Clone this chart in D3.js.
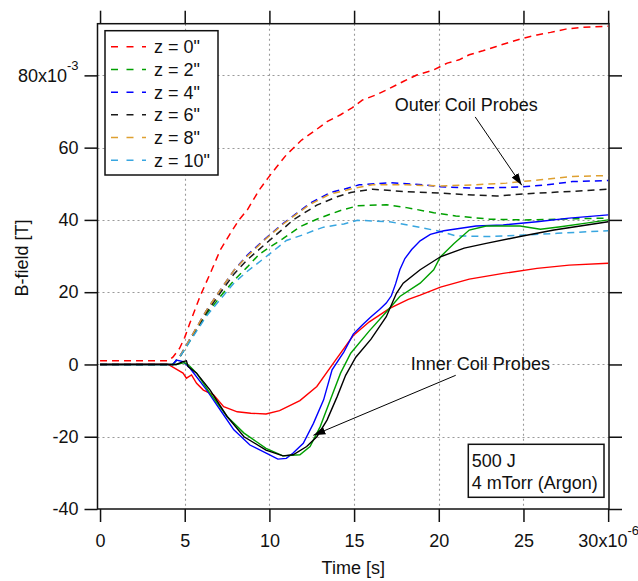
<!DOCTYPE html>
<html><head><meta charset="utf-8">
<script src="https://cdn.jsdelivr.net/npm/d3@7"></script>
<style>
body{margin:0;background:#fff}
svg{display:block}
text{font-family:"Liberation Sans",Arial,sans-serif;fill:#111}
</style>
</head><body>
<svg id="chart" width="638" height="581"></svg>
<script>
// ---------- DATA (time in microseconds, B in mT) ----------
const seriesNames  = ['z = 0"', 'z = 2"', 'z = 4"', 'z = 6"', 'z = 8"', 'z = 10"'];
const seriesColors = ['#ff0000', '#00a000', '#0000ff', '#1a1a1a', '#dea030', '#38a6e0'];

// Outer coil probes (dashed)
const outerZ0 = [[0,1],[4,1],[4.3,2],[4.7,4.5],[5,7.5],[5.3,11.4],[5.9,18.8],[6.6,26.2],[7.1,31.7],[7.7,36.3],[8.2,40],[8.7,42.8],[9.4,48.3],[9.9,51.5],[10.4,54.5],[11,58],[11.9,62.1],[12.6,64.4],[13.4,67.2],[14.2,69.1],[14.9,71.1],[15.5,73.2],[16.3,74.6],[17.1,76.4],[17.9,78.3],[18.7,80.1],[19.7,81.5],[20.5,83.4],[21.2,84.3],[21.8,85.7],[22.6,86.8],[23.4,88],[24.2,89.2],[25,90.3],[25.8,91.2],[26.6,91.9],[27.5,92.8],[28.5,93.3],[30,93.6]];
const outerZ2 = [[0,0],[4.3,0],[4.7,2],[5.5,8],[6.3,14],[7.1,18.8],[7.9,23.2],[8.7,27],[9.4,30.5],[9.8,31.8],[10.8,34.8],[11.8,38.1],[12.8,40.2],[13.6,41.6],[14.2,42.6],[15.2,43.9],[16.9,44.2],[18.1,43.4],[19.7,42],[21,41.1],[23,40.2],[25,40],[27,40.2],[30,40.5]];
const outerZ4 = [[0,0],[4.3,0],[4.7,2.2],[5.5,8.6],[6.3,15.1],[7.1,20.6],[7.9,26],[8.7,30.3],[9.8,35],[10.8,39],[11.6,41.8],[12.4,44.6],[13.6,47.6],[14.4,48.5],[15.3,49.7],[17.1,50.3],[19.1,49.7],[20.1,49.2],[22,48.8],[24,49],[25,49.2],[26.4,49.7],[27.9,50.6],[30,50.9]];
const outerZ6 = [[0,0],[4.3,0],[4.7,2],[5.5,8.2],[6.3,14.5],[7.1,19.8],[7.9,25],[8.7,29],[9.8,33.5],[10.8,37.5],[11.4,40],[12.8,44.1],[14,46.4],[14.8,47.6],[16.1,48.5],[18.1,47.8],[20.1,47.4],[22,46.9],[23.4,46.6],[25,47.2],[27,47.7],[28.7,48.1],[30,48.5]];
const outerZ8 = [[0,0],[4.3,0],[4.7,2.2],[5.5,8.6],[6.3,15.1],[7.1,20.6],[7.9,26],[8.7,30],[9.8,34.8],[10.8,38.8],[11.6,41.6],[12.4,44.3],[13.6,47.2],[14.2,47.8],[15,48.8],[16.1,49.7],[18.1,49.7],[20.1,49.4],[22,49.7],[24,50.2],[26,51.1],[27.9,52],[30,52.3]];
const outerZ10 = [[0,0],[4.3,0],[4.7,2],[5.5,7.8],[6.3,13.5],[7.1,18],[7.9,22.5],[8.7,25.8],[9.8,29.8],[11,34.3],[12,35.9],[12.6,37],[13.2,38],[14.4,38.9],[15.2,39.9],[17.1,39.5],[18.7,38.1],[20.1,36.8],[21,35.6],[23,35.4],[25,35.8],[27,36.3],[30,37]];

// Inner coil probes (solid)
const innerRed   = [[0,0],[4,0.1],[4.4,-1],[4.9,-2.4],[5.1,-3.8],[5.4,-2.9],[5.7,-5.2],[6.1,-7.1],[6.7,-8.4],[7.3,-11.7],[8.1,-13.1],[8.9,-13.5],[9.8,-13.7],[10.6,-12.8],[11.8,-10],[12.8,-6.1],[13.8,0.5],[14.95,8],[15.9,11.8],[17.1,15.5],[18.2,18],[18.9,19.2],[20.1,21.4],[21.8,23.6],[23.8,25.2],[25.8,26.6],[27.7,27.5],[30,28]];
const innerBlue  = [[0,0],[4.3,0],[4.5,1.2],[4.9,0.8],[5.3,-1],[6.3,-7.1],[7.1,-12.6],[7.9,-18.1],[8.85,-22.3],[9.84,-24.6],[10.5,-26.2],[11,-26],[11.4,-24.5],[12,-21.8],[12.6,-16.3],[13.2,-9.8],[13.7,-1.5],[14.4,3.5],[14.95,8.4],[15.5,11],[16,13.2],[16.5,15.2],[16.9,17],[17.2,19],[17.45,22.3],[17.7,26.2],[18,29.3],[18.4,31.8],[18.9,34.2],[19.5,36],[20.3,37],[22.2,38.3],[23.8,38.6],[25.8,39.5],[27.7,40.5],[30,41.4]];
const innerGreen = [[0,0],[4.5,0],[5,0.5],[5.3,-0.5],[5.7,-2.4],[6.5,-8],[7.5,-14.4],[8.5,-19],[9.8,-23.2],[10.8,-25.3],[11.8,-25],[12.4,-22.7],[13,-17.2],[13.6,-9.8],[14.2,-2.4],[14.8,3.1],[15.9,9.3],[16.9,14.5],[17.7,18.8],[18.9,22.5],[19.7,26.2],[20.1,29.8],[20.9,33.5],[21.8,37.2],[22.8,38.3],[24.8,38.3],[26,37.4],[27.2,38.1],[28.7,39.1],[30,40]];
const innerBlack = [[0,0],[4.5,0],[4.9,0.8],[5.1,1],[5.2,-0.6],[5.7,-2.4],[6.5,-7.1],[7.5,-14.4],[8.5,-20],[9.8,-23.7],[10.8,-25.3],[11.4,-25],[12.2,-22.7],[12.8,-20],[13.4,-15.4],[14,-8.9],[14.5,-3],[15.1,2],[16,7],[16.9,13.2],[17.5,19.7],[17.9,22.5],[18.9,26.2],[20.1,29.8],[21.5,32.2],[22.8,33.5],[24.8,35.4],[26.8,37.2],[30,39.5]];

const xTicks = [0, 5, 10, 15, 20, 25, 30];
const yTicks = [-40, -20, 0, 20, 40, 60, 80];
const xGrid = [5, 10, 15, 20, 25];
const yGrid = [-20, 0, 20, 40, 60, 80];
const xTickLabels = ['0', '5', '10', '15', '20', '25', '30x10'];
const yTickLabels = ['-40', '-20', '0', '20', '40', '60', '80x10'];
const xExponent = '-6';
const yExponent = '-3';
const xTitle = 'Time [s]';
const yTitle = 'B-field [T]';
const infoLines = ['500 J', '4 mTorr (Argon)'];
// annotations: label position and arrow from -> to (data units)
const annotLabels = ['Outer Coil Probes', 'Inner Coil Probes'];
const annotText = [[17.4, 70.2], [18.35, -1.6]];
const annotFrom = [[22.15, 68.5], [21.0, -3.0]];
const annotTo   = [[24.9, 49.6], [12.6, -19.6]];

// ---------- LAYOUT ----------
const svg = d3.select('#chart');
const L = 97.5, R = 609, T = 23.7, B = 509;
const x = d3.scaleLinear().domain([-0.15, 30.05]).range([L, R]);
const y = d3.scaleLinear().domain([-40, 94.3]).range([B, T]);
const FS = 18;

// grid
const grid = svg.append('g').attr('stroke', '#9a9a9a').attr('stroke-width', 1.1).attr('stroke-dasharray', '2,3');
grid.selectAll('line.gx').data(xGrid).join('line')
  .attr('x1', d => Math.round(x(d)) + 0.5).attr('x2', d => Math.round(x(d)) + 0.5)
  .attr('y1', T).attr('y2', B);
grid.selectAll('line.gy').data(yGrid).join('line')
  .attr('y1', d => Math.round(y(d)) + 0.5).attr('y2', d => Math.round(y(d)) + 0.5)
  .attr('x1', L).attr('x2', R);

// axes
function styleAxis(g) {
  g.select('.domain').remove();
  g.selectAll('.tick line').attr('stroke', '#111').attr('stroke-width', 1.5);
  g.selectAll('.tick text').attr('font-size', FS).attr('fill', '#111')
    .attr('font-family', '"Liberation Sans",Arial,sans-serif');
}
const gL = svg.append('g').attr('transform', `translate(${L},0)`)
  .call(d3.axisLeft(y).tickValues(yTicks).tickSize(13).tickPadding(6).tickFormat((d, i) => yTickLabels[i]));
styleAxis(gL);
gL.selectAll('.tick text').filter(d => d === 80).append('tspan')
  .attr('font-size', 13).attr('dy', -12).text(yExponent);

const gB = svg.append('g').attr('transform', `translate(0,${B})`)
  .call(d3.axisBottom(x).tickValues(xTicks).tickSize(13).tickPadding(12).tickFormat((d, i) => xTickLabels[i]));
styleAxis(gB);
gB.selectAll('.tick text').filter(d => d === 30).append('tspan')
  .attr('font-size', 13).attr('dy', -12).text(xExponent);

const gT = svg.append('g').attr('transform', `translate(0,${T})`)
  .call(d3.axisTop(x).tickValues(xTicks).tickSize(13).tickFormat(''));
styleAxis(gT);
const gR = svg.append('g').attr('transform', `translate(${R},0)`)
  .call(d3.axisRight(y).tickValues(yTicks).tickSize(13).tickFormat(''));
styleAxis(gR);

// frame
svg.append('rect').attr('x', L).attr('y', T).attr('width', R - L).attr('height', B - T)
  .attr('fill', 'none').attr('stroke', '#111').attr('stroke-width', 1.5);

// titles
svg.append('text').attr('x', (L + R) / 2).attr('y', 574).attr('text-anchor', 'middle')
  .attr('font-size', FS).text(xTitle);
svg.append('text').attr('transform', 'translate(28,258) rotate(-90)').attr('text-anchor', 'middle')
  .attr('font-size', FS).text(yTitle);

// lines
const line = d3.line().x(d => x(d[0])).y(d => y(d[1]));
const outerSeries = [outerZ0, outerZ2, outerZ4, outerZ6, outerZ8, outerZ10];
svg.append('clipPath').attr('id', 'pc').append('rect')
  .attr('x', L).attr('y', T).attr('width', R - L).attr('height', B - T);
const plot = svg.append('g').attr('clip-path', 'url(#pc)');
plot.selectAll('path.outer').data(outerSeries).join('path')
  .attr('class', 'outer').attr('d', line).attr('fill', 'none')
  .attr('stroke', (d, i) => seriesColors[i]).attr('stroke-width', 1.5)
  .attr('stroke-dasharray', '7,5');
const innerSeries = [innerRed, innerBlue, innerGreen, innerBlack];
const innerColors = [seriesColors[0], seriesColors[2], seriesColors[1], '#000000'];
plot.selectAll('path.inner').data(innerSeries).join('path')
  .attr('class', 'inner').attr('d', line).attr('fill', 'none')
  .attr('stroke', (d, i) => innerColors[i]).attr('stroke-width', 1.4);

// arrows
svg.append('defs').append('marker').attr('id', 'ah')
  .attr('markerUnits', 'userSpaceOnUse').attr('markerWidth', 14).attr('markerHeight', 10)
  .attr('refX', 12).attr('refY', 4).attr('orient', 'auto')
  .append('path').attr('d', 'M0,0 L12,4 L0,8 Z').attr('fill', '#000');
annotLabels.forEach((lab, i) => {
  svg.append('line')
    .attr('x1', x(annotFrom[i][0])).attr('y1', y(annotFrom[i][1]))
    .attr('x2', x(annotTo[i][0])).attr('y2', y(annotTo[i][1]))
    .attr('stroke', '#000').attr('stroke-width', 1).attr('marker-end', 'url(#ah)');
  svg.append('text').attr('x', x(annotText[i][0])).attr('y', y(annotText[i][1]))
    .attr('font-size', FS).text(lab);
});

// legend
const lg = svg.append('g');
lg.append('rect').attr('x', 105).attr('y', 30.7).attr('width', 113).attr('height', 144.3)
  .attr('fill', '#fff').attr('stroke', '#111').attr('stroke-width', 1.5);
seriesNames.forEach((nm, i) => {
  const by = 53.3 + i * 22.67;
  lg.append('line').attr('x1', 111).attr('x2', 146).attr('y1', by - 6.5).attr('y2', by - 6.5)
    .attr('stroke', seriesColors[i]).attr('stroke-width', 1.5).attr('stroke-dasharray', '7,8.5');
  lg.append('text').attr('x', 154).attr('y', by).attr('font-size', FS).text(nm);
});

// info box
const ib = svg.append('g');
ib.append('rect').attr('x', 468.3).attr('y', 444.3).attr('width', 135.7).attr('height', 53)
  .attr('fill', '#fff').attr('stroke', '#111').attr('stroke-width', 1.5);
infoLines.forEach((t, i) => {
  ib.append('text').attr('x', 471.7).attr('y', 466.5 + i * 22.3).attr('font-size', FS).text(t);
});
</script>
</body></html>
